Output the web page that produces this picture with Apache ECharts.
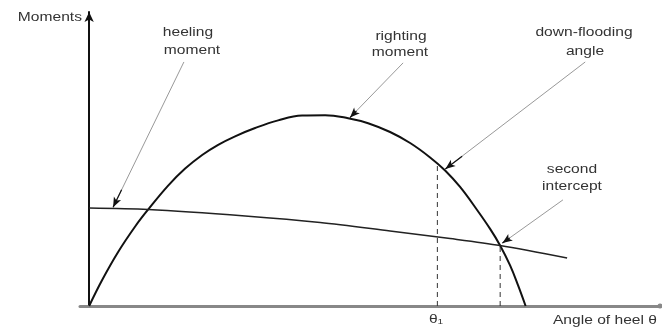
<!DOCTYPE html>
<html lang="en">
<head>
    <meta charset="UTF-8">
    <title>Righting and heeling moments</title>
    <script src="https://cdn.jsdelivr.net/npm/echarts@6/dist/echarts.min.js"></script>
    <style>
        html, body { margin: 0; padding: 0; background: #fff; }
        #main { width: 662px; height: 330px; }
    </style>
</head>
<body>
<div id="main"></div>
<script>
    // angle of heel (arbitrary units 0..100) and moments (0..100)
    var rightingAngle = [0, 2.28, 5.08, 8.06, 10.33, 13.84, 16.82, 19.80, 22.60, 25.57, 29.08, 33.11, 37.31, 41.34, 45.37, 48.87, 52.72, 56.23, 59.73, 62.36, 64.98, 67.96, 70.24, 71.99, 73.74, 75.14, 76.46];
    var rightingMoment = [0, 8.84, 18.37, 27.04, 32.79, 40.95, 46.73, 51.36, 54.83, 57.72, 60.54, 63.13, 64.76, 64.90, 63.88, 62.18, 59.18, 55.44, 50.54, 46.09, 40.48, 32.65, 26.22, 20.61, 13.81, 7.01, 0];

    var heelingAngle = [0, 10.33, 27.33, 40.46, 52.72, 63.23, 71.99, 83.73];
    var heelingMoment = [33.33, 32.82, 30.61, 28.40, 25.51, 22.96, 20.58, 16.33];

    // down-flooding angle θ1 and second intercept
    var floodAngle = [61.0, 48.1];
    var interceptAngle = [72.0, 20.6];

    function pairs(xs, ys) {
        return xs.map(function (x, i) { return [x, ys[i]]; });
    }

    var myChart = echarts.init(document.getElementById('main'));

    var font = 'Liberation Sans, Arial, sans-serif';
    function txt(x, y, s, align) {
        return {
            type: 'text', x: x, y: y, scaleX: 1.3,
            style: {
                text: s, fill: '#333', font: '12px ' + font,
                textAlign: align || 'center', textVerticalAlign: 'middle'
            }
        };
    }

    // annotation arrows: [start, tip] in data units
    var arrows = [
        [[16.6, 83.0], [4.2, 33.6]],
        [[55.0, 82.7], [45.7, 64.1]],
        [[86.9, 83.0], [62.4, 46.6]],
        [[83.0, 36.1], [72.4, 21.4]]
    ];

    var lines = [];
    arrows.forEach(function (a) {
        var s = a[0], t = a[1];
        // long thin grey shaft
        lines.push([
            { coord: s, symbol: 'none', lineStyle: { color: '#999', width: 1, type: 'solid' } },
            { coord: t, symbol: 'none' }
        ]);
        // short dark part with arrowhead near the tip
        var k = 0.12;
        var m = [t[0] + (s[0] - t[0]) * k, t[1] + (s[1] - t[1]) * k];
        lines.push([
            { coord: m, symbol: 'none', lineStyle: { color: '#111', width: 1.2, type: 'solid' } },
            { coord: t, symbol: 'arrow', symbolSize: [6, 10] }
        ]);
    });

    var option = {
        animation: false,
        backgroundColor: '#fff',
        grid: { left: 80, right: 2, top: 12, bottom: 24 },
        xAxis: {
            type: 'value', min: -1.6, max: 100,
            axisLine: { show: true, onZero: true, symbol: ['none', 'circle'], symbolSize: [5, 5],
                lineStyle: { color: '#888', width: 3 } },
            axisTick: { show: false }, axisLabel: { show: false }, splitLine: { show: false }
        },
        yAxis: {
            type: 'value', min: 0, max: 100,
            axisLine: { show: true, onZero: true, symbol: ['none', 'arrow'], symbolSize: [7, 10],
                lineStyle: { color: '#111', width: 2 } },
            axisTick: { show: false }, axisLabel: { show: false }, splitLine: { show: false }
        },
        series: [
            {
                name: 'righting moment', type: 'line', smooth: 0.4, symbol: 'none',
                data: pairs(rightingAngle, rightingMoment),
                lineStyle: { color: '#111', width: 2 },
                silent: true
            },
            {
                name: 'heeling moment', type: 'line', smooth: 0.3, symbol: 'none',
                data: pairs(heelingAngle, heelingMoment),
                lineStyle: { color: '#222', width: 1.5 },
                silent: true,
                markLine: {
                    silent: true, symbol: ['none', 'none'],
                    label: { show: false },
                    lineStyle: { type: 'solid' },
                    emphasis: { disabled: true },
                    data: lines
                }
            },
            {
                type: 'line', symbol: 'none', silent: true,
                data: [[floodAngle[0], 0], floodAngle],
                lineStyle: { color: '#333', width: 1, type: [5, 4] }
            },
            {
                type: 'line', symbol: 'none', silent: true,
                data: [[interceptAngle[0], 0], interceptAngle],
                lineStyle: { color: '#333', width: 1, type: [5, 4] }
            }
        ],
        graphic: [
            txt(82, 18, 'Moments', 'right'),
            txt(188, 33, 'heeling'),
            txt(192, 51, 'moment'),
            txt(401, 37, 'righting'),
            txt(400, 53, 'moment'),
            txt(584, 33, 'down-flooding'),
            txt(585, 52, 'angle'),
            txt(572, 170, 'second'),
            txt(572, 187, 'intercept'),
            txt(436, 320, 'θ₁'),
            txt(657, 321, 'Angle of heel θ', 'right')
        ]
    };

    myChart.setOption(option);
</script>
</body>
</html>
